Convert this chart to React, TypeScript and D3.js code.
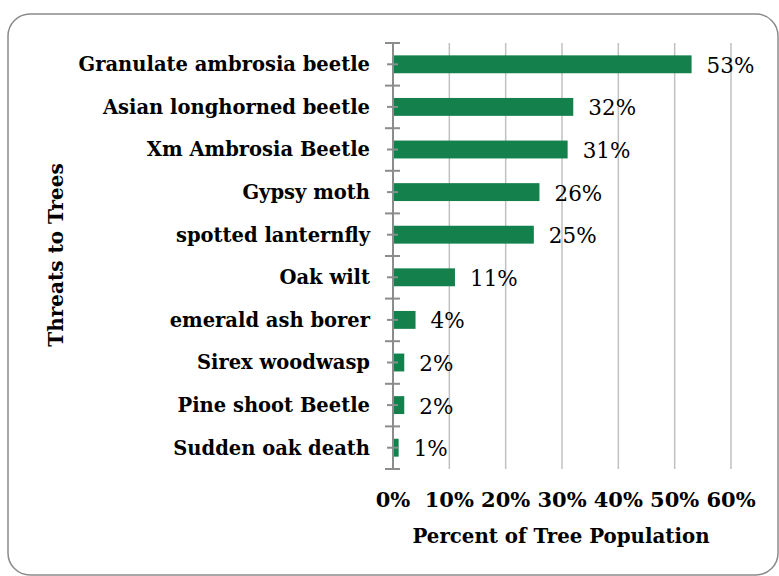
import React from "react";
import * as d3 from "d3";

const categories = [
  "Granulate ambrosia beetle",
  "Asian longhorned beetle",
  "Xm Ambrosia Beetle",
  "Gypsy moth",
  "spotted lanternfly",
  "Oak wilt",
  "emerald ash borer",
  "Sirex woodwasp",
  "Pine shoot Beetle",
  "Sudden oak death",
];
const values = [53, 32, 31, 26, 25, 11, 4, 2, 2, 1];
const xTicks = [0, 10, 20, 30, 40, 50, 60];

const W = 779;
const H = 576;
const plot = { left: 393, right: 731, top: 43, bottom: 469 };
const FONT = "'DejaVu Serif', serif";
const BAR = "#14804c";

export default function App() {
  const x = d3.scaleLinear().domain([0, 60]).range([plot.left, plot.right]);
  const y = d3
    .scaleBand<string>()
    .domain(categories)
    .range([plot.top, plot.bottom])
    .paddingInner(0.58)
    .paddingOuter(0.29);
  const band = d3.scaleBand<string>().domain(categories).range([plot.top, plot.bottom]);
  const step = band.step();

  return (
    <svg
      width={W}
      height={H}
      style={{ position: "absolute", left: 0, top: 0, background: "#fff" }}
    >
      <rect x={8} y={14} width={770} height={561} rx={22} ry={22} fill="#fff" stroke="#8a8a8a" strokeWidth={1.5} />

      {/* vertical gridlines */}
      {xTicks.slice(1).map((t) => (
        <line key={t} x1={x(t)} x2={x(t)} y1={plot.top} y2={plot.bottom} stroke="#c0c0c0" strokeWidth={1.5} />
      ))}

      {/* bars */}
      {categories.map((c, i) => (
        <rect key={c} x={x(0)} y={y(c)!} width={x(values[i]) - x(0)} height={y.bandwidth()} fill={BAR} />
      ))}

      {/* category axis */}
      <line x1={plot.left} x2={plot.left} y1={plot.top} y2={plot.bottom} stroke="#8c8c8c" strokeWidth={2} />
      {d3.range(categories.length + 1).map((i) => (
        <line key={"mj" + i} x1={plot.left - 8} x2={plot.left + 7} y1={plot.top + i * step} y2={plot.top + i * step} stroke="#8c8c8c" strokeWidth={2} />
      ))}
      {categories.map((c) => (
        <line key={"mn" + c} x1={plot.left - 6} x2={plot.left + 5} y1={band(c)! + step / 2} y2={band(c)! + step / 2} stroke="#8c8c8c" strokeWidth={2} />
      ))}

      {/* category labels */}
      {categories.map((c) => (
        <text key={"l" + c} x={370} y={band(c)! + step / 2} dy="0.35em" textAnchor="end" fontFamily={FONT} fontWeight="bold" fontSize={19.5} fill="#000">
          {c}
        </text>
      ))}

      {/* value labels */}
      {categories.map((c, i) => (
        <text key={"v" + c} x={x(values[i]) + 15} y={band(c)! + step / 2 + 1} dy="0.35em" fontFamily={FONT} fontSize={21.5} fill="#000">
          {values[i]}%
        </text>
      ))}

      {/* x tick labels */}
      {xTicks.map((t) => (
        <text key={"t" + t} x={x(t)} y={507} textAnchor="middle" fontFamily={FONT} fontWeight="bold" fontSize={21} fill="#000">
          {t}%
        </text>
      ))}

      <text x={561} y={543} textAnchor="middle" fontFamily={FONT} fontWeight="bold" fontSize={19.8} fill="#000">
        Percent of Tree Population
      </text>
      <text transform="translate(63,255) rotate(-90)" textAnchor="middle" fontFamily={FONT} fontWeight="bold" fontSize={20} fill="#000">
        Threats to Trees
      </text>
    </svg>
  );
}
